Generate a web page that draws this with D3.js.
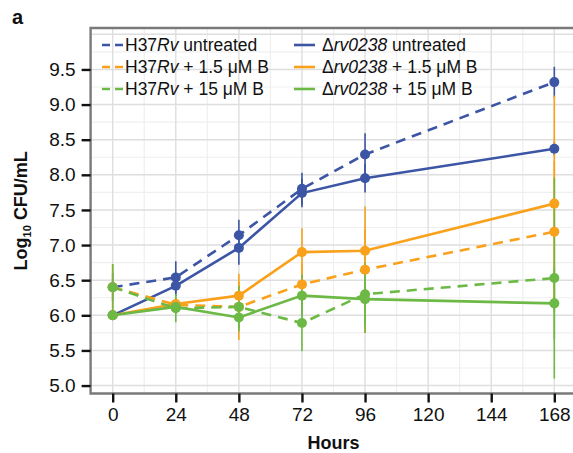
<!DOCTYPE html>
<html lang="en">
<head>
    <meta charset="UTF-8">
    <title>CFU time course</title>
    <script src="https://d3js.org/d3.v7.min.js"></script>
    <style>
        body { margin: 0; background: #fff; }
        text { font-family: "Liberation Sans", Arial, Helvetica, sans-serif; fill: #111; }
    </style>
</head>
<body>
<script>
    // data
    let hours = [0, 24, 48, 72, 96, 168];
    let xTicks = [0, 24, 48, 72, 96, 120, 144, 168];
    let yTicks = [5.0, 5.5, 6.0, 6.5, 7.0, 7.5, 8.0, 8.5, 9.0, 9.5];

    let h37Untreated = [6.40, 6.54, 7.14, 7.80, 8.29, 9.32];
    let h37UntreatedErr = [0.20, 0.23, 0.22, 0.23, 0.30, 0.22];
    let rvUntreated = [6.00, 6.42, 6.96, 7.74, 7.95, 8.37];
    let rvUntreatedErr = [0.00, 0.15, 0.24, 0.20, 0.20, 0.10];
    let h37Low = [6.40, 6.15, 6.12, 6.44, 6.65, 7.19];
    let h37LowErr = [0.33, 0.10, 0.47, 0.30, 0.90, 1.00];
    let rvLow = [6.00, 6.16, 6.28, 6.90, 6.92, 7.59];
    let rvLowErr = [0.00, 0.10, 0.20, 0.34, 0.30, 1.54];
    let h37High = [6.40, 6.10, 6.12, 5.89, 6.30, 6.53];
    let h37HighErr = [0.33, 0.20, 0.30, 0.40, 0.45, 1.43];
    let rvHigh = [6.00, 6.12, 5.97, 6.28, 6.23, 6.17];
    let rvHighErr = [0.00, 0.10, 0.20, 0.30, 0.48, 0.50];

    let blue = "#3c55a5", orange = "#f9a11b", green = "#6cb946";

    let series = [
        {strain: "H37", label: " untreated", vals: h37Untreated, err: h37UntreatedErr, color: blue, dashed: true},
        {strain: "rv", label: " untreated", vals: rvUntreated, err: rvUntreatedErr, color: blue, dashed: false},
        {strain: "H37", label: " + 1.5 μM B", vals: h37Low, err: h37LowErr, color: orange, dashed: true},
        {strain: "rv", label: " + 1.5 μM B", vals: rvLow, err: rvLowErr, color: orange, dashed: false},
        {strain: "H37", label: " + 15 μM B", vals: h37High, err: h37HighErr, color: green, dashed: true},
        {strain: "rv", label: " + 15 μM B", vals: rvHigh, err: rvHighErr, color: green, dashed: false}
    ];

    let W = 573, H = 453;
    let pLeft = 90.6, pTop = 28, pBottom = 393.5;

    let x = d3.scaleLinear().domain([-8.4, 176.4]).range([pLeft, 576.4]);
    let y = d3.scaleLinear().domain([4.887, 10.09]).range([pBottom, pTop]);

    let svg = d3.select("body").append("svg")
        .attr("width", W)
        .attr("height", H);

    svg.append("defs").append("clipPath").attr("id", "panel")
        .append("rect")
        .attr("x", pLeft).attr("y", pTop)
        .attr("width", W - pLeft).attr("height", pBottom - pTop);

    let panel = svg.append("g").attr("clip-path", "url(#panel)");

    // grid: minor then major
    let xMinor = d3.range(-12, 181, 24);
    let yMinor = d3.range(4.75, 10.1, 0.5);
    let yMajor = d3.range(5.0, 10.1, 0.5);
    panel.selectAll(".vminor").data(xMinor).enter().append("line")
        .attr("x1", d => x(d)).attr("x2", d => x(d))
        .attr("y1", pTop).attr("y2", pBottom)
        .style("stroke", "#efefef").style("stroke-width", 1.2);
    panel.selectAll(".hminor").data(yMinor).enter().append("line")
        .attr("y1", d => y(d)).attr("y2", d => y(d))
        .attr("x1", pLeft).attr("x2", W)
        .style("stroke", "#efefef").style("stroke-width", 1.2);
    panel.selectAll(".vmajor").data(xTicks).enter().append("line")
        .attr("x1", d => x(d)).attr("x2", d => x(d))
        .attr("y1", pTop).attr("y2", pBottom)
        .style("stroke", "#dedede").style("stroke-width", 1.4);
    panel.selectAll(".hmajor").data(yMajor).enter().append("line")
        .attr("y1", d => y(d)).attr("y2", d => y(d))
        .attr("x1", pLeft).attr("x2", W)
        .style("stroke", "#dedede").style("stroke-width", 1.4);

    // error bars
    series.forEach(function (s) {
        panel.selectAll(null).data(hours.map((h, i) => ({h: h, v: s.vals[i], e: s.err[i]})))
            .enter().append("line")
            .attr("x1", d => x(d.h)).attr("x2", d => x(d.h))
            .attr("y1", d => y(d.v - d.e)).attr("y2", d => y(d.v + d.e))
            .style("stroke", s.color).style("stroke-width", 1.6);
    });

    // lines
    let line = d3.line().x((d, i) => x(hours[i])).y(d => y(d));
    series.forEach(function (s) {
        panel.append("path")
            .attr("d", line(s.vals))
            .style("fill", "none")
            .style("stroke", s.color)
            .style("stroke-width", 2.6)
            .style("stroke-dasharray", s.dashed ? "10,7" : null);
    });

    // points
    series.forEach(function (s) {
        panel.selectAll(null).data(s.vals).enter().append("circle")
            .attr("cx", (d, i) => x(hours[i]))
            .attr("cy", d => y(d))
            .attr("r", 5)
            .style("fill", s.color);
    });

    // panel border
    svg.append("path")
        .attr("d", `M${W},${pTop}H${pLeft}V${pBottom}H${W}`)
        .style("fill", "none")
        .style("stroke", "#7a7a7a")
        .style("stroke-width", 2.4);

    // axes
    let yAxis = svg.append("g")
        .attr("transform", `translate(${pLeft},0)`)
        .call(d3.axisLeft(y).tickValues(yTicks).tickSize(9).tickPadding(6).tickFormat(d3.format(".1f")));
    let xAxis = svg.append("g")
        .attr("transform", `translate(0,${pBottom})`)
        .call(d3.axisBottom(x).tickValues(xTicks).tickSize(9).tickPadding(5));
    [yAxis, xAxis].forEach(function (a) {
        a.select(".domain").remove();
        a.selectAll(".tick line").style("stroke", "#111").style("stroke-width", 2.4);
        a.selectAll(".tick text").style("font-size", "19px").style("fill", "#111")
            .style("font-family", "'Liberation Sans', Arial, Helvetica, sans-serif");
    });

    // axis titles
    svg.append("text")
        .attr("x", x(84)).attr("y", 449)
        .attr("text-anchor", "middle")
        .style("font-size", "18px").style("font-weight", "bold")
        .text("Hours");

    let yt = svg.append("text")
        .attr("transform", `translate(27,${(pTop + pBottom) / 2}) rotate(-90)`)
        .attr("text-anchor", "middle")
        .style("font-size", "18px").style("font-weight", "bold");
    yt.append("tspan").text("Log");
    yt.append("tspan").attr("dy", 4).style("font-size", "11px").text("10");
    yt.append("tspan").attr("dy", -4).text(" CFU/mL");

    svg.append("text")
        .attr("x", 12).attr("y", 24)
        .style("font-size", "20px").style("font-weight", "bold")
        .text("a");

    // legend
    let legend = svg.append("g");
    series.forEach(function (s, i) {
        let col = i % 2, row = Math.floor(i / 2);
        let lx = col === 0 ? 102 : 294;
        let ly = 45 + row * 22;
        legend.append("line")
            .attr("x1", lx).attr("x2", lx + 21)
            .attr("y1", ly).attr("y2", ly)
            .style("stroke", s.color).style("stroke-width", 2.6)
            .style("stroke-dasharray", s.dashed ? "8,5" : null);
        let t = legend.append("text")
            .attr("x", col === 0 ? 125 : 322)
            .attr("y", ly + 6)
            .style("font-size", "17.5px");
        if (s.strain === "H37") {
            t.append("tspan").text("H37");
            t.append("tspan").style("font-style", "italic").text("Rv");
        } else {
            t.append("tspan").text("Δ");
            t.append("tspan").style("font-style", "italic").text("rv0238");
        }
        t.append("tspan").text(s.label);
    });
</script>
</body>
</html>
